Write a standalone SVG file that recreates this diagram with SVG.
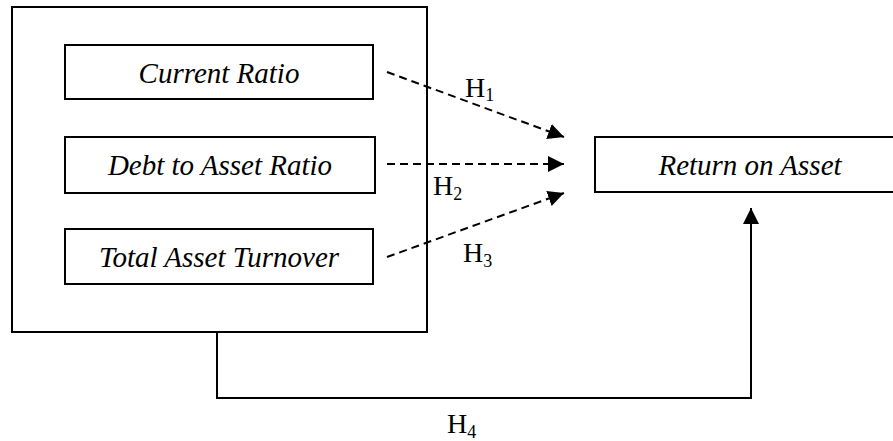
<svg xmlns="http://www.w3.org/2000/svg" width="893" height="441" viewBox="0 0 893 441">
<defs>
<style>
.box{fill:#fff;stroke:#000;stroke-width:2}
.lbl{font-family:"Liberation Serif","Times New Roman",serif;font-style:italic;font-size:29px;fill:#000;text-anchor:middle}
.h{font-family:"Liberation Serif","Times New Roman",serif;font-size:28px;fill:#000}
.sub{font-size:18px}
.dash{fill:none;stroke:#000;stroke-width:2;stroke-dasharray:8 5}
.solid{fill:none;stroke:#000;stroke-width:2}
</style>
<marker id="arr" markerUnits="userSpaceOnUse" markerWidth="18" markerHeight="16" refX="16" refY="8" orient="auto">
<path d="M0,0 L16,8 L0,16 Z" fill="#000"/>
</marker>
</defs>
<rect width="893" height="441" fill="#fff"/>
<g id="outer"><rect class="box" x="12" y="7" width="415" height="325"/></g>
<g id="current-ratio"><rect class="box" x="65" y="45" width="308" height="54"/><text class="lbl" x="219" y="83">Current Ratio</text></g>
<g id="debt-to-asset"><rect class="box" x="65" y="137" width="310" height="56"/><text class="lbl" x="220" y="175">Debt to Asset Ratio</text></g>
<g id="total-asset-turnover"><rect class="box" x="65" y="229" width="308" height="55"/><text class="lbl" x="219" y="267">Total Asset Turnover</text></g>
<g id="return-on-asset"><rect class="box" x="595" y="137" width="312" height="55"/><text class="lbl" x="750" y="175">Return on Asset</text></g>
<g id="connectors">
<path class="dash" d="M387,72 L564,137" marker-end="url(#arr)"/>
<path class="dash" d="M387,164 L564,164" marker-end="url(#arr)"/>
<path class="dash" d="M387,257 L564,193" marker-end="url(#arr)"/>
<path class="solid" d="M217,332 L217,398 L751,398 L751,208" marker-end="url(#arr)"/>
<text class="h" x="465" y="97">H<tspan class="sub" dy="4">1</tspan></text>
<text class="h" x="433" y="195">H<tspan class="sub" dy="5">2</tspan></text>
<text class="h" x="463" y="262">H<tspan class="sub" dy="5">3</tspan></text>
<text class="h" x="447" y="433">H<tspan class="sub" dy="5">4</tspan></text>
</g>
</svg>
